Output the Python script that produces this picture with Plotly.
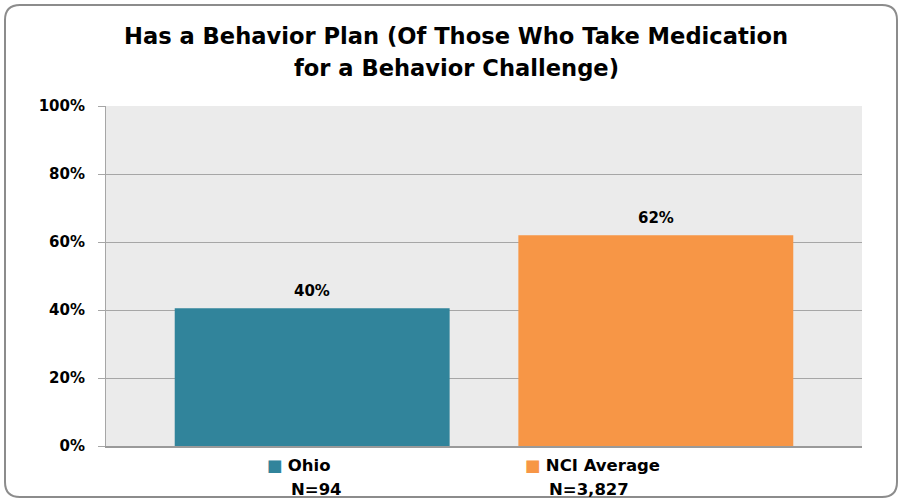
import plotly.graph_objects as go

categories = ["Ohio", "NCI Average"]
sample_sizes = ["N=94", "N=3,827"]
values = [40.5, 62.0]
value_labels = ["40%", "62%"]
colors = ["#31849B", "#F79646"]
tick_vals = [0, 20, 40, 60, 80, 100]
tick_text = ["0%", "20%", "40%", "60%", "80%", "100%"]
title_lines = ["Has a Behavior Plan (Of Those Who Take Medication", "for a Behavior Challenge)"]
label_offsets = [-0.137, -0.386]  # left edge of category labels relative to bar centre

W, H = 902, 501
ML, MR, MT, MB = 106, 40, 106, 55
PW, PH = W - ML - MR, H - MT - MB

def px(x):
    return (x - ML) / PW

def py(y):
    return 1 - (y - MT) / PH

xs = list(range(len(categories)))

fig = go.Figure()
fig.add_trace(go.Bar(
    x=xs, y=values, width=0.8,
    marker=dict(color=colors, line=dict(width=0)),
    showlegend=False, hoverinfo="skip",
))

annotations = []
for xv, yv, lab in zip(xs, values, value_labels):
    annotations.append(dict(xref="x", yref="y", x=xv, y=yv, text="<b>%s</b>" % lab,
                            showarrow=False, xanchor="center", yanchor="bottom", yshift=6,
                            font=dict(family="DejaVu Sans", size=15, color="#000000")))
for ty, line in zip([36, 68], title_lines):
    annotations.append(dict(xref="paper", yref="paper", x=px(456), y=py(ty), text="<b>%s</b>" % line,
                            showarrow=False, xanchor="center", yanchor="middle",
                            font=dict(family="DejaVu Sans", size=22.6, color="#000000")))
for i, (c, n, col, off) in enumerate(zip(categories, sample_sizes, colors, label_offsets)):
    xl = xs[i] + off
    annotations.append(dict(xref="x", yref="paper", x=xl, y=py(465),
                            text="<span style='color:%s'>■</span> <b>%s</b>" % (col, c),
                            showarrow=False, xanchor="left", yanchor="middle",
                            font=dict(family="DejaVu Sans", size=16.5, color="#000000")))
    annotations.append(dict(xref="x", yref="paper", x=xl + 24 / 343.5, y=py(489),
                            text="<b>%s</b>" % n,
                            showarrow=False, xanchor="left", yanchor="middle",
                            font=dict(family="DejaVu Sans", size=16.5, color="#000000")))

r = 15
x0, x1, y0, y1 = 5, 897, 5, 497
def P(x, y):
    return "%f,%f" % (px(x), py(y))
path = ("M %s L %s Q %s %s L %s Q %s %s L %s Q %s %s L %s Q %s %s Z" % (
    P(x0 + r, y0), P(x1 - r, y0), P(x1, y0), P(x1, y0 + r),
    P(x1, y1 - r), P(x1, y1), P(x1 - r, y1),
    P(x0 + r, y1), P(x0, y1), P(x0, y1 - r),
    P(x0, y0 + r), P(x0, y0), P(x0 + r, y0)))

fig.update_layout(
    width=W, height=H,
    margin=dict(l=ML, r=MR, t=MT, b=MB, pad=0),
    paper_bgcolor="#FFFFFF",
    plot_bgcolor="#EBEBEB",
    annotations=annotations,
    shapes=[dict(type="path", xref="paper", yref="paper", path=path,
                 line=dict(color="#8C8C8C", width=2), fillcolor="rgba(0,0,0,0)", layer="below")],
    xaxis=dict(range=[-0.6, 1.6], showticklabels=False, showgrid=False, zeroline=False,
               showline=True, linecolor="#9A9A9A", linewidth=2, ticks="", fixedrange=True),
    yaxis=dict(range=[0, 100], tickvals=tick_vals, ticktext=["<b>%s</b>" % t for t in tick_text],
               tickfont=dict(family="DejaVu Sans", size=15, color="#000000"),
               showgrid=True, gridcolor="#A6A6A6", gridwidth=1, zeroline=False,
               showline=True, linecolor="#A6A6A6", linewidth=1,
               ticks="outside", ticklen=7, tickcolor="#A6A6A6", ticklabelstandoff=10,
               fixedrange=True),
    font=dict(family="DejaVu Sans"),
)
fig.write_html("out.html", config={"displayModeBar": False},
               post_script="document.body.style.margin='0';document.body.style.overflow='hidden';")
